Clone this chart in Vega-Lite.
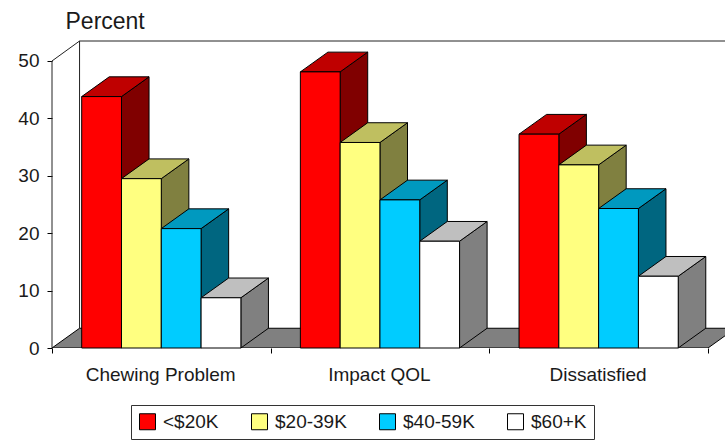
{
"$schema":"https://vega.github.io/schema/vega-lite/v6.json",
"width":673,"height":307,
"autosize":{"type":"none"},
"padding":{"left":52,"top":41,"right":0,"bottom":92},
"background":"white",
"config":{"view":{"stroke":null},"font":"Liberation Sans","text":{"font":"Liberation Sans"}},
"datasets":{"bars":[
{"group":"Chewing Problem","g":0,"income":"<$20K","s":0,"value":43.8},
{"group":"Chewing Problem","g":0,"income":"$20-39K","s":1,"value":29.5},
{"group":"Chewing Problem","g":0,"income":"$40-59K","s":2,"value":20.8},
{"group":"Chewing Problem","g":0,"income":"$60+K","s":3,"value":8.75},
{"group":"Impact QOL","g":1,"income":"<$20K","s":0,"value":48.1},
{"group":"Impact QOL","g":1,"income":"$20-39K","s":1,"value":35.8},
{"group":"Impact QOL","g":1,"income":"$40-59K","s":2,"value":25.8},
{"group":"Impact QOL","g":1,"income":"$60+K","s":3,"value":18.6},
{"group":"Dissatisfied","g":2,"income":"<$20K","s":0,"value":37.25},
{"group":"Dissatisfied","g":2,"income":"$20-39K","s":1,"value":31.9},
{"group":"Dissatisfied","g":2,"income":"$40-59K","s":2,"value":24.3},
{"group":"Dissatisfied","g":2,"income":"$60+K","s":3,"value":12.5}
]},
"data":{"name":"bars"},
"transform":[
{"calculate":"[0,1]","as":"t"},
{"flatten":["t"]},
{"calculate":"datum.g+0.1358+datum.s*0.182","as":"x0"},
{"calculate":"datum.x0+0.182","as":"x1"},
{"calculate":"datum.t*0.126","as":"dx"},
{"calculate":"datum.t*3.44","as":"dy"},
{"calculate":"datum.x1+datum.dx","as":"sideX"},
{"calculate":"datum.value+datum.dy","as":"topY"},
{"calculate":"datum.x0+datum.dx","as":"topX0"},
{"calculate":"datum.x1+datum.dx","as":"topX1"},
{"calculate":"datum.g+0.497","as":"labelX"}
],
"layer":[
{"data":{"values":[{"xl":0,"xr":3,"y":0},{"xl":0.126,"xr":3.126,"y":3.44}]},
 "transform":[],
 "mark":{"type":"area","orient":"horizontal","fill":"#808080","stroke":"#000","strokeWidth":1,"clip":true},
 "encoding":{
  "x":{"field":"xl","type":"quantitative","title":null,"scale":{"domain":[0,3.0777],"nice":false,"zero":false},
       "axis":{"values":[0,1,2,3],"labels":false,"grid":false,"domain":false,"tickColor":"#000","tickSize":5,"zindex":1}},
  "x2":{"field":"xr"},
  "y":{"field":"y","type":"quantitative","stack":null,"title":"Percent","scale":{"domain":[0,53.48],"nice":false,"zero":false},
       "axis":{"values":[0,10,20,30,40,50],"grid":false,"domain":false,"tickColor":"#000","tickSize":5,"labelFontSize":19,"labelFont":"Liberation Sans","labelColor":"#1a1a1a","labelPadding":8,
               "titleAngle":0,"titleX":13,"titleY":-13,"titleAlign":"left","titleBaseline":"alphabetic","titleFontSize":23,"titleFontWeight":"normal","titleFont":"Liberation Sans","titleColor":"#1a1a1a"}}
 }},
{"data":{"values":[
  {"x":0,"y":0,"x2":0,"y2":50},
  {"x":0,"y":50,"x2":0.126,"y2":53.48},
  {"x":0.126,"y":53.48,"x2":0.126,"y2":3.44},
  {"x":0.126,"y":53.48,"x2":3.0777,"y2":53.48}
 ]},
 "transform":[],
 "mark":{"type":"rule","stroke":"#222","strokeWidth":1},
 "encoding":{
  "x":{"field":"x","type":"quantitative","title":null},
  "x2":{"field":"x2"},
  "y":{"field":"y","type":"quantitative","title":"Percent"},
  "y2":{"field":"y2"}
 }},
{"mark":{"type":"area","stroke":"#000","strokeWidth":1},
 "encoding":{
  "x":{"field":"sideX","type":"quantitative","title":null},
  "y":{"field":"dy","type":"quantitative","stack":null,"title":"Percent"},
  "y2":{"field":"topY"},
  "detail":{"field":"x0"},
  "fill":{"field":"income","type":"nominal","legend":null,
     "scale":{"domain":["<$20K","$20-39K","$40-59K","$60+K"],"range":["#800000","#808040","#006680","#808080"]}}
 }},
{"mark":{"type":"area","orient":"horizontal","stroke":"#000","strokeWidth":1},
 "encoding":{
  "x":{"field":"topX0","type":"quantitative","title":null},
  "x2":{"field":"topX1"},
  "y":{"field":"topY","type":"quantitative","stack":null,"title":"Percent"},
  "detail":{"field":"x0"},
  "fill":{"field":"income","type":"nominal","legend":null,
     "scale":{"domain":["<$20K","$20-39K","$40-59K","$60+K"],"range":["#BF0000","#BFBF60","#0099BF","#BFBFBF"]}}
 }},
{"transform":[{"filter":"datum.t==0"}],
 "mark":{"type":"rect","stroke":"#000","strokeWidth":1},
 "encoding":{
  "x":{"field":"x0","type":"quantitative","title":null},
  "x2":{"field":"x1"},
  "y":{"field":"value","type":"quantitative","title":"Percent"},
  "y2":{"datum":0},
  "fill":{"field":"income","type":"nominal",
     "scale":{"domain":["<$20K","$20-39K","$40-59K","$60+K"],"range":["#FF0000","#FFFF80","#00CCFF","#FFFFFF"]},
     "legend":{"orient":"none","legendX":79,"legendY":364,"direction":"horizontal","columns":4,"title":null,"symbolType":"square","symbolSize":256,"symbolStrokeColor":"#000","symbolStrokeWidth":1,"symbolOpacity":1,"labelFontSize":19,"labelFont":"Liberation Sans","labelColor":"#1a1a1a","labelOffset":6,"columnPadding":30,"padding":7,"strokeColor":"#333","fillColor":"#fff","gridAlign":"each"}}
 }},
{"transform":[{"filter":"datum.t==0 && datum.s==0"}],
 "mark":{"type":"text","dy":33,"fontSize":19,"font":"Liberation Sans","color":"#1a1a1a","align":"center","baseline":"alphabetic"},
 "encoding":{
  "x":{"field":"labelX","type":"quantitative","title":null},
  "y":{"datum":0,"title":"Percent"},
  "text":{"field":"group"}
 }}
],
"resolve":{"scale":{"fill":"independent"}}
}
